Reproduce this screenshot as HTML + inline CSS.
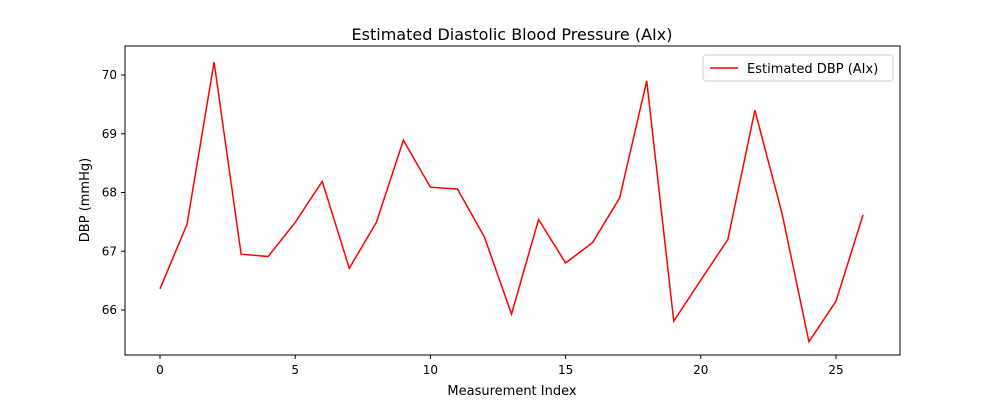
<!DOCTYPE html>
<html><head><meta charset="utf-8"><style>
body{margin:0;background:#fff;font-family:"DejaVu Sans","Liberation Sans",sans-serif;}
svg text{font-family:"DejaVu Sans","Liberation Sans",sans-serif;fill:#000}
</style></head><body>
<svg id="chart" width="1000" height="400"></svg>
<script>
const xValues=[0,1,2,3,4,5,6,7,8,9,10,11,12,13,14,15,16,17,18,19,20,21,22,23,24,25,26];
const dbpValues=[66.36,67.46,70.22,66.95,66.91,67.49,68.19,66.71,67.49,68.89,68.09,68.06,67.24,65.93,67.54,66.80,67.15,67.91,69.90,65.81,66.51,67.20,69.40,67.65,65.46,66.15,67.62];
const xTicks=[0,5,10,15,20,25];
const yTicks=[66,67,68,69,70];
const L=125,R=900,T=46,B=355;
const sx=v=>160+v*(836-160)/25;
const sy=v=>310-(v-66)*(310-75)/4;
const svg=document.getElementById('chart');
const NS='http://www.w3.org/2000/svg';
function mk(t,a,txt){const e=document.createElementNS(NS,t);for(const k in a)e.setAttribute(k,a[k]);if(txt!==undefined)e.textContent=txt;svg.appendChild(e);return e;}
let e;
e=mk('rect',{x:L,y:T,width:R-L,height:B-T,fill:'none',stroke:'#000','stroke-width':1});


xTicks.forEach(v=>{
 e=mk('line',{x1:sx(v),x2:sx(v),y1:B,y2:B+4,stroke:'#000'});
 
 
 e=mk('text',{x:sx(v),y:B+19,'text-anchor':'middle','font-size':12},String(v));
 
 
});
yTicks.forEach(v=>{
 e=mk('line',{x1:L-4,x2:L,y1:sy(v),y2:sy(v),stroke:'#000'});
 
 
 e=mk('text',{x:L-8,y:sy(v)+4,'text-anchor':'end','font-size':12},String(v));
 
 
});
e=mk('polyline',{points:xValues.map((x,i)=>sx(x)+','+sy(dbpValues[i])).join(' '),fill:'none',stroke:'#ff0000','stroke-width':1.5});


e=mk('text',{x:512,y:40,'text-anchor':'middle','font-size':16},'Estimated Diastolic Blood Pressure (AIx)');


e=mk('text',{x:512,y:395,'text-anchor':'middle','font-size':13},'Measurement Index');


e=mk('text',{x:89,y:200,'text-anchor':'middle','font-size':13,transform:'rotate(-90 89 200)'},'DBP (mmHg)');


e=mk('rect',{x:703,y:55,width:190,height:26,rx:3,fill:'#fff',stroke:'#ccc'});


e=mk('line',{x1:710,x2:738,y1:68,y2:68,stroke:'#ff0000','stroke-width':1.5});


e=mk('text',{x:747,y:73,'font-size':13},'Estimated DBP (AIx)');


</script>
</body></html>
